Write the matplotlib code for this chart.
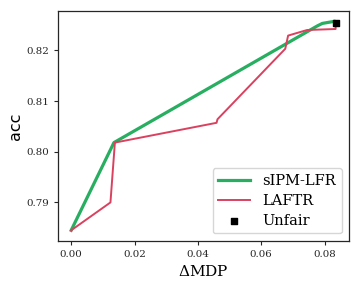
import matplotlib
matplotlib.use("Agg")
import matplotlib.pyplot as plt

# sIPM-LFR trade-off curve
sipm_mdp = [0.0, 0.0135, 0.0777, 0.0793, 0.0830]
sipm_acc = [0.7845, 0.8018, 0.8248, 0.8253, 0.8257]

# LAFTR trade-off curve
laftr_mdp = [0.0, 0.0124, 0.0138, 0.0459, 0.0462, 0.0676, 0.0685, 0.0745, 0.0835, 0.0835]
laftr_acc = [0.7845, 0.7900, 0.8018, 0.8057, 0.8064, 0.8203, 0.8229, 0.8240, 0.8242, 0.8254]

# unfair baseline
unfair_mdp = [0.0835]
unfair_acc = [0.8254]

plt.rcParams['font.family'] = 'DejaVu Serif'
plt.rcParams['mathtext.fontset'] = 'dejavuserif'

fig = plt.figure(figsize=(3.6, 2.88), dpi=100)
ax = fig.add_axes([0.161, 0.164, 0.808, 0.798])

ax.plot(sipm_mdp, sipm_acc, color='#27ae60', lw=2.3, label='sIPM-LFR')
ax.plot(laftr_mdp, laftr_acc, color='#d9415f', lw=1.4, label='LAFTR')
ax.scatter(unfair_mdp, unfair_acc, marker='s', s=25, color='black', zorder=5, label='Unfair')

ax.set_xticks([0.0, 0.02, 0.04, 0.06, 0.08])
ax.set_yticks([0.79, 0.80, 0.81, 0.82])
ax.tick_params(labelsize=7.4, colors='#262626', length=3, width=0.8)
for s in ax.spines.values():
    s.set_color('#262626')
    s.set_linewidth(0.9)

ax.set_xlabel(r'$\Delta$MDP', fontsize=11)
ax.set_ylabel('acc', fontsize=11.5, family='DejaVu Sans', labelpad=2)

ax.legend(loc='lower right', fontsize=10.5, frameon=True, edgecolor='#cccccc',
          handlelength=2.2, borderpad=0.4, labelspacing=0.4)

fig.savefig('out.png', dpi=100)
